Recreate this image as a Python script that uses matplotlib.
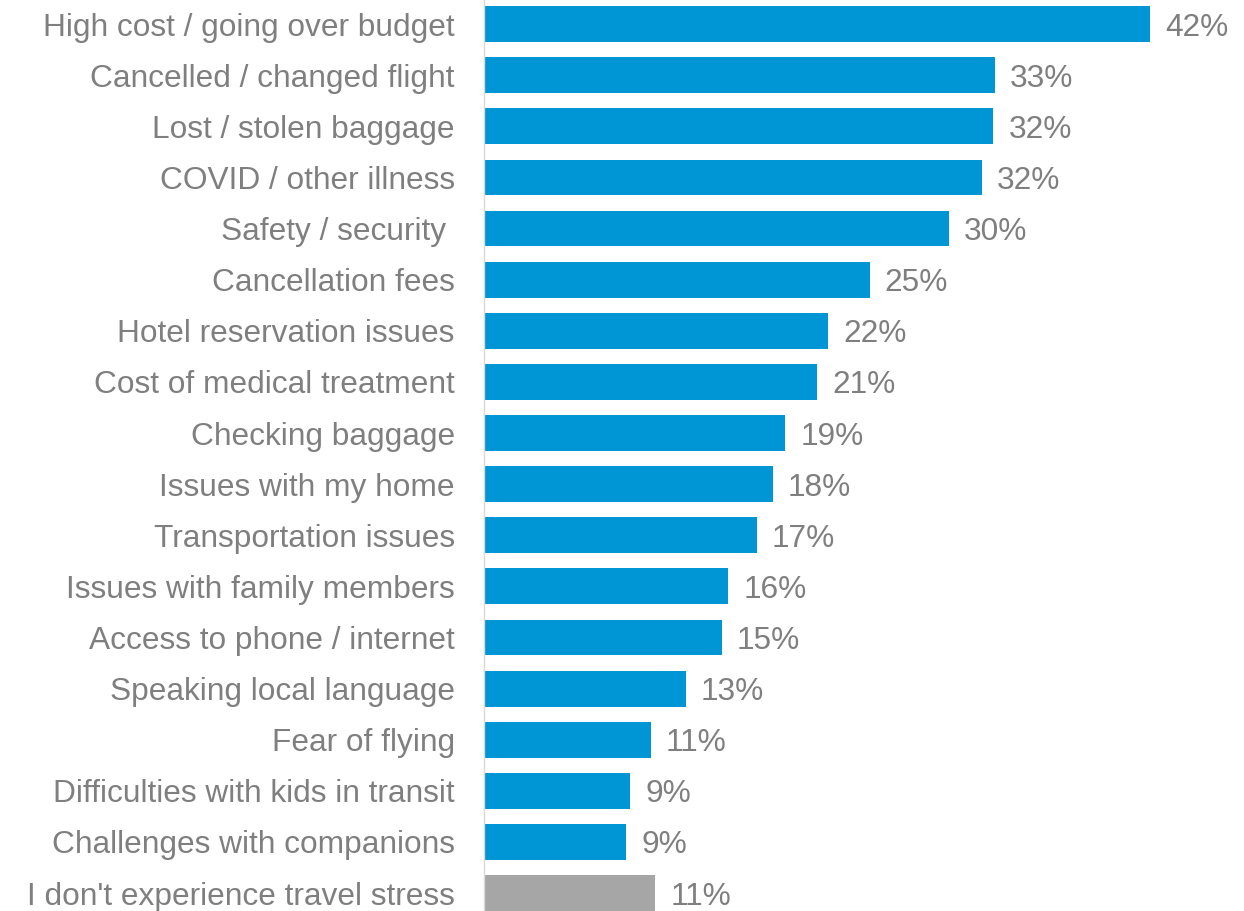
import matplotlib
matplotlib.use('Agg')
import matplotlib.pyplot as plt

plt.rcParams['font.family'] = ['Liberation Sans', 'DejaVu Sans']

# 데이터
categories = ['High cost / going over budget', 'Cancelled / changed flight', 'Lost / stolen baggage',
              'COVID / other illness', 'Safety / security ', 'Cancellation fees',
              'Hotel reservation issues', 'Cost of medical treatment', 'Checking baggage',
              'Issues with my home', 'Transportation issues', 'Issues with family members',
              'Access to phone / internet', 'Speaking local language', 'Fear of flying',
              'Difficulties with kids in transit', 'Challenges with companions',
              "I don't experience travel stress"]
values = [42.0, 32.2, 32.1, 31.4, 29.3, 24.3, 21.7, 21.0, 19.0, 18.2, 17.2, 15.4, 15.0, 12.7, 10.5, 9.2, 8.95, 10.8]
value_labels = ['42%', '33%', '32%', '32%', '30%', '25%', '22%', '21%', '19%', '18%', '17%', '16%',
                '15%', '13%', '11%', '9%', '9%', '11%']

blue = '#0096D6'
grey_bar = '#A6A6A6'
text_col = '#7F7F7F'
colors = [blue] * (len(values) - 1) + [grey_bar]
fs = 22.8

fig = plt.figure(figsize=(12.44, 9.11), dpi=100)
ax = fig.add_axes([484 / 1244, 0, 1 - 484 / 1244, 1])

y = list(range(len(values)))
ax.barh(y, values, height=0.7, color=colors)
for i, (v, lab) in enumerate(zip(values, value_labels)):
    ax.text(v + 0.95, i, lab, va='center_baseline', ha='left', fontsize=fs, color=text_col)

ax.set_xlim(0, 47.9)
ax.set_ylim(17.35, -0.47)
ax.set_yticks(y)
ax.set_yticklabels(categories, fontsize=fs, color=text_col, va='center_baseline')
ax.tick_params(axis='y', length=0, pad=21)
ax.set_xticks([])
for s in ['top', 'right', 'bottom']:
    ax.spines[s].set_visible(False)
ax.spines['left'].set_color('#D9D9D9')
ax.spines['left'].set_linewidth(1)

fig.savefig('out.png', dpi=100)
